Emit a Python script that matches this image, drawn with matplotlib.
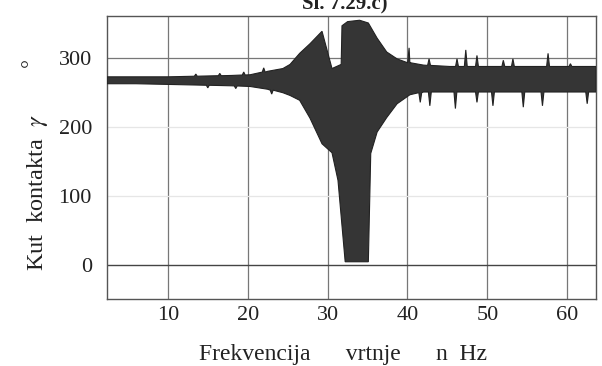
import numpy as np
import matplotlib
matplotlib.use("Agg")
import matplotlib.pyplot as plt

plt.rcParams['font.family'] = ['Liberation Serif', 'DejaVu Serif']
plt.rcParams['mathtext.fontset'] = 'stix'

# Upper envelope of the contact angle band (frequency Hz, angle deg)
upper_f = [2.4, 6, 10, 14, 18, 20.3, 22.5, 24.4, 25.3, 26.5, 27.8, 29.3, 30.55, 31.7,
           31.8, 32.5, 34, 35.1, 36.2, 37.4, 38.7, 40.3, 42, 45.3, 50, 55, 60, 63.6]
upper_v = [272, 272, 272, 273, 274, 275, 280, 284, 290, 306, 320, 338, 284, 290,
           346, 352, 354, 350, 328, 308, 298, 292, 289, 287, 287, 287, 287, 287]
# Lower envelope
lower_f = [2.4, 6, 10, 14, 18, 20.3, 22.5, 24.4, 25.3, 26.5, 27.8, 29.3, 30.55, 31.3,
           32.2, 35.1, 35.4, 36.2, 37.4, 38.7, 40.3, 42, 45.3, 50, 55, 60, 63.6]
lower_v = [262, 262, 261, 260, 259, 258, 254, 249, 245, 238, 212, 175, 162, 122,
           4, 4, 161, 192, 213, 233, 246, 250, 250, 250, 250, 250, 250]

# Isolated spikes on the band edges
spike_up_f = [13.5, 16.5, 19.5, 22.0, 40.2, 42.7, 46.2, 47.3, 48.7, 52.0, 53.2, 57.6, 60.4]
spike_up_v = [276, 277, 279, 285, 314, 298, 298, 311, 303, 296, 298, 306, 291]
spike_dn_f = [15.0, 18.5, 23.0, 41.6, 42.8, 46.0, 48.7, 50.7, 54.5, 56.9, 62.5]
spike_dn_v = [256, 255, 247, 235, 230, 226, 235, 230, 228, 230, 233]

xticks = [10, 20, 30, 40, 50, 60]
yticks = [0, 100, 200, 300]


def add_spikes(fx, fy, sf, sv, w=0.18):
    fx = list(fx); fy = list(fy)
    for f, v in zip(sf, sv):
        base = np.interp(f, fx, fy)
        pts = [(f - w, base), (f, v), (f + w, base)]
        for px, py in pts:
            i = np.searchsorted(fx, px)
            fx.insert(i, px); fy.insert(i, py)
    return np.array(fx), np.array(fy)


uf, uv = add_spikes(upper_f, upper_v, spike_up_f, spike_up_v)
lf, lv = add_spikes(lower_f, lower_v, spike_dn_f, spike_dn_v)

fig = plt.figure(figsize=(6.02, 3.66), dpi=100)
ax = fig.add_axes([0.178, 0.183, 0.812, 0.773])

ax.set_xlim(2.4, 63.6)
ax.set_ylim(-50, 360)

for x in xticks:
    ax.axvline(x, color='#777777', lw=0.9, zorder=1)
ax.axhline(0, color='#444444', lw=1.0, zorder=1)
ax.axhline(300, color='#777777', lw=0.9, zorder=1)
ax.axhline(100, color='#e6e6e6', lw=0.9, zorder=1)
ax.axhline(200, color='#e6e6e6', lw=0.9, zorder=1)

poly_x = np.concatenate([uf, lf[::-1]])
poly_y = np.concatenate([uv, lv[::-1]])
ax.fill(poly_x, poly_y, facecolor='#353535', edgecolor='#222222', lw=0.8, zorder=3)

ax.set_xticks(xticks)
ax.set_yticks(yticks)
ax.tick_params(length=0, labelsize=16, colors='#222222')
ax.tick_params(axis='x', pad=5)
ax.tick_params(axis='y', pad=11)
for s in ax.spines.values():
    s.set_color('#555555')
    s.set_linewidth(1.0)

fig.text(0.570, 0.016, "Frekvencija      vrtnje      n  Hz", ha='center', va='baseline',
         fontsize=17, color='#222222')
fig.text(0.062, 0.475, "Kut  kontakta  $\\gamma$", rotation=90, ha='center', va='center',
         fontsize=17.5, color='#222222')
fig.text(0.052, 0.83, "°", rotation=90, ha='center', va='center',
         fontsize=16, color='#222222')
fig.text(0.573, 0.99, "Sl. 7.29.c)", ha='center', va='center', fontsize=15,
         fontweight='bold', color='#222222')

fig.savefig("out.png", dpi=100, facecolor='white')
